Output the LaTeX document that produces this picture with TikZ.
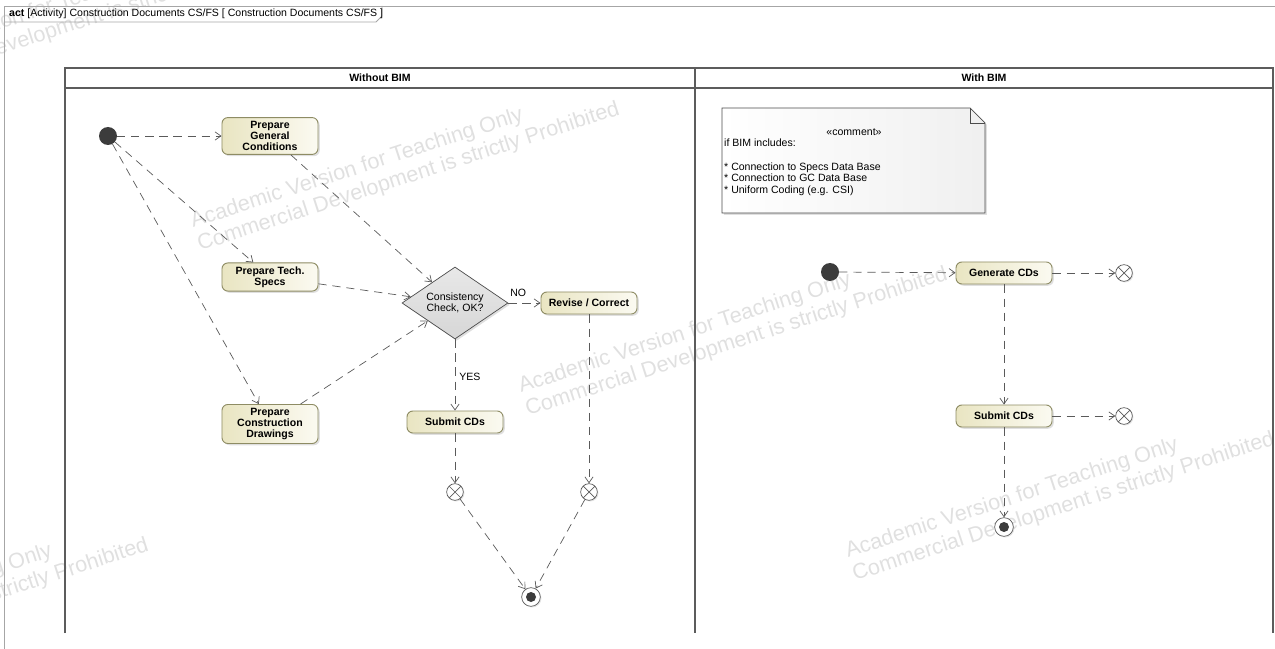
\documentclass[tikz,border=0pt]{standalone}
\usepackage{fontspec}
\setmainfont{Liberation Sans}
\usepackage{xcolor}
\usepackage{tikz}
\usetikzlibrary{shapes.geometric,arrows.meta,shadows}

\definecolor{actfillL}{HTML}{E9E5C2}
\definecolor{actfillR}{HTML}{FBFAF1}
\definecolor{actdraw}{HTML}{8E8C64}
\definecolor{flowgray}{HTML}{5A5A5A}
\definecolor{initgray}{HTML}{3C3C3C}
\definecolor{lanegray}{HTML}{5C5C5C}
\definecolor{wmgray}{HTML}{E0E0E0}

\newcommand{\diafont}{\fontsize{9}{9.6}\selectfont}

\tikzset{
  action/.style={rectangle, rounded corners=5pt, draw=actdraw, line width=0.8pt,
    left color=actfillL, right color=actfillR, font=\diafont\bfseries, align=center,
    minimum width=2.88cm, minimum height=0.66cm, inner ysep=3pt,
    drop shadow={shadow xshift=1.5pt, shadow yshift=-1.5pt, opacity=0.25}},
  decision/.style={diamond, aspect=1.5, draw=gray!60!black, line width=0.6pt,
    top color=gray!18, bottom color=gray!32, font=\diafont, align=center,
    minimum width=3.18cm, minimum height=2.16cm, inner sep=1pt,
    drop shadow={shadow xshift=1.5pt, shadow yshift=-1.5pt, opacity=0.25}},
  startnode/.style={circle, fill=initgray, minimum size=0.54cm, inner sep=0pt},
  flowend/.style={circle, draw=flowgray, fill=white, line width=0.6pt,
    minimum size=0.5cm, inner sep=0pt,
    drop shadow={shadow xshift=1pt, shadow yshift=-1pt, opacity=0.2},
    path picture={\draw[flowgray, line width=0.6pt]
      (path picture bounding box.south west) -- (path picture bounding box.north east)
      (path picture bounding box.north west) -- (path picture bounding box.south east);}},
  actend/.style={circle, draw=flowgray, fill=white, line width=0.6pt,
    minimum size=0.56cm, inner sep=0pt,
    drop shadow={shadow xshift=1pt, shadow yshift=-1pt, opacity=0.2},
    path picture={\fill[initgray] (path picture bounding box.center) circle (0.15cm);}},
  flow/.style={draw=flowgray, line width=0.6pt, dash pattern=on 7pt off 5pt,
    -{Straight Barb[length=5pt, width=7pt]}},
  lane/.style={draw=lanegray, line width=1.1pt},
  wmark/.style={anchor=base west, rotate=18, text=wmgray, inner sep=0pt,
    font=\fontsize{18.5}{20}\selectfont}
}

\begin{document}
\begin{tikzpicture}[x=0.03cm, y=-0.03cm, font=\diafont]
\useasboundingbox (0,0) rectangle (1275,649);

% Watermark
\begin{scope}
\clip (0,0) rectangle (1275,649);
\foreach \wx/\wy [count=\i] in {-140/75, 193/228, 521/393, 848/558, -278/664}{
  \node[wmark] (wma\i) at (\wx,\wy) {Academic Version for Teaching Only};
  \node[wmark] (wmb\i) at (\wx+7,\wy+23) {Commercial Development is strictly Prohibited};
}
\end{scope}

% Frame and title tab
\draw[gray!70, line width=0.7pt] (4,649) -- (4,6) -- (1275,6);
\draw[gray!70, line width=0.7pt] (4,22) -- (376,22) -- (382,16) -- (382,6);
\node[anchor=west, inner sep=0pt] (title) at (9,14)
  {\textbf{act} [Activity] Construction Documents CS/FS [ Construction Documents CS/FS ]};

% Partitions
\draw[lane] (65,633) -- (65,68) -- (1273,68) -- (1273,633);
\draw[lane] (65,88) -- (1273,88);
\draw[lane] (695,68) -- (695,633);
\node[font=\diafont\bfseries] (laneA) at (380,78) {Without BIM};
\node[font=\diafont\bfseries] (laneB) at (984,78) {With BIM};

% Without BIM
\node[startnode] (start1) at (108,136) {};
\node[action] (pgc) at (270,136) {Prepare\\General\\Conditions};
\node[action] (pts) at (270,277) {Prepare Tech.\\Specs};
\node[action] (pcd) at (270,424) {Prepare\\Construction\\Drawings};
\node[decision] (check) at (455,303) {Consistency\\Check, OK?};
\node[action] (rev) at (589,303) {Revise / Correct};
\node[action] (sub1) at (455,422) {Submit CDs};
\node[flowend] (ffa) at (455,492) {};
\node[flowend] (ffb) at (589,492) {};
\node[actend] (end1) at (531,597) {};

\draw[flow] (start1) -- (pgc);
\draw[flow] (start1) -- (pts);
\draw[flow] (start1) -- (pcd);
\draw[flow] (pgc) -- (check);
\draw[flow] (pts) -- (check);
\draw[flow] (pcd) -- (check);
\draw[flow] (check) -- node[pos=0, above right, xshift=-2pt, yshift=2pt] (lblno) {NO} (rev);
\draw[flow] (check) -- node[midway, right, yshift=-2pt] (lblyes) {YES} (sub1);
\draw[flow] (sub1) -- (ffa);
\draw[flow] (rev) -- (ffb);
\draw[flow] (ffa) -- (end1);
\draw[flow] (ffb) -- (end1);

% With BIM
\draw[gray!60!black, line width=0.6pt, left color=white, right color=gray!12,
  drop shadow={shadow xshift=1.5pt, shadow yshift=-1.5pt, opacity=0.25}]
  (722,108) -- (970,108) -- (985,123) -- (985,213) -- (722,213) -- cycle;
\draw[gray!60!black, line width=0.6pt] (970,108) -- (970,123) -- (985,123);
\node (cmthead) at (854,132) {«comment»};
\node[anchor=north west, align=left, inner sep=0pt] (cmtbody) at (724,138.5)
  {if BIM includes:\\[11pt]* Connection to Specs Data Base\\* Connection to GC Data Base\\* Uniform Coding (e.g. CSI)};

\node[startnode] (start2) at (830,272) {};
\node[action] (gen) at (1004,273) {Generate CDs};
\node[action] (sub2) at (1004,416) {Submit CDs};
\node[flowend] (ffc) at (1124,273) {};
\node[flowend] (ffd) at (1124,416) {};
\node[actend] (end2) at (1004,527) {};

\draw[flow] (start2) -- (gen);
\draw[flow] (gen) -- (ffc);
\draw[flow] (gen) -- (sub2);
\draw[flow] (sub2) -- (ffd);
\draw[flow] (sub2) -- (end2);
\end{tikzpicture}
\end{document}
